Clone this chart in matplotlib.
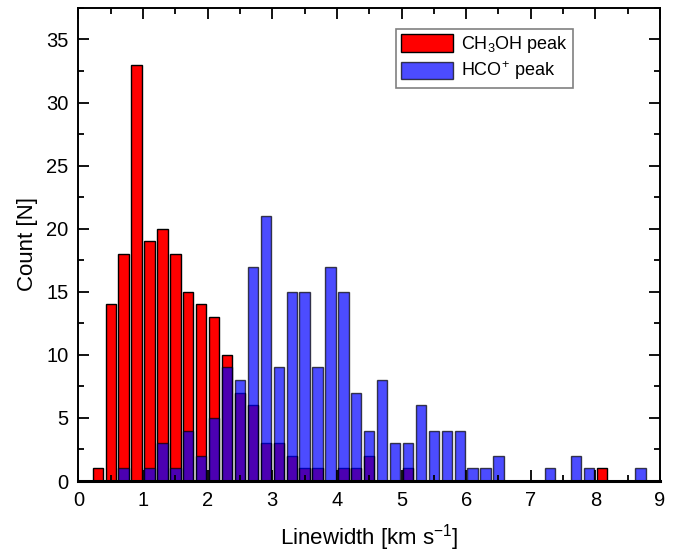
import matplotlib
matplotlib.use('Agg')
import matplotlib.pyplot as plt
from matplotlib.ticker import MultipleLocator
import numpy as np

plt.rcParams['font.family'] = ['Liberation Sans', 'DejaVu Sans']
plt.rcParams['mathtext.fontset'] = 'custom'
plt.rcParams['mathtext.rm'] = 'Liberation Sans'
plt.rcParams['mathtext.it'] = 'Liberation Sans:italic'
plt.rcParams['mathtext.bf'] = 'Liberation Sans:bold'

# histogram bins: width 0.2 km/s, first bin centred on 0.3
bin_start = 0.3
bin_step = 0.2

# counts per bin (0.3, 0.5, ..., 8.7)
ch3oh_counts = [1, 14, 18, 33, 19, 20, 18, 15, 14, 13,
                10, 7, 6, 3, 3, 2, 1, 1, 0, 1,
                1, 2, 0, 0, 1, 0, 0, 0, 0, 0,
                0, 0, 0, 0, 0, 0, 0, 0, 0, 1,
                0, 0, 0]
hco_counts = [0, 0, 1, 0, 1, 3, 1, 4, 2, 5,
              9, 8, 17, 21, 9, 15, 15, 9, 17, 15,
              7, 4, 8, 3, 3, 6, 4, 4, 4, 1,
              1, 2, 0, 0, 0, 1, 0, 2, 1, 0,
              0, 0, 1]

labels = ['CH$_3$OH peak', 'HCO$^{+}$ peak']

centers = bin_start + bin_step * np.arange(len(ch3oh_counts))

fig = plt.figure(figsize=(6.85, 5.52), dpi=100)
ax = fig.add_axes([0.1145, 0.1286, 0.849, 0.857])

ax.bar(centers, ch3oh_counts, width=0.16, color='#ff0000',
       edgecolor='black', linewidth=1, label=labels[0])
ax.bar(centers, hco_counts, width=0.16, color='#0000ff', alpha=0.7,
       edgecolor='black', linewidth=1, label=labels[1])

ax.set_xlim(0, 9)
ax.set_ylim(0, 37.5)
ax.xaxis.set_major_locator(MultipleLocator(1))
ax.xaxis.set_minor_locator(MultipleLocator(0.5))
ax.yaxis.set_major_locator(MultipleLocator(5))
ax.yaxis.set_minor_locator(MultipleLocator(2.5))
ax.tick_params(which='both', direction='in', top=True, right=True,
               labelsize=14.5, width=1.3)
ax.tick_params(which='major', length=8, pad=7)
ax.tick_params(which='minor', length=4)

for s in ax.spines.values():
    s.set_linewidth(1.4)
ax.spines['bottom'].set_linewidth(2.2)

ax.set_xlabel('Linewidth [km s$^{-1}$]', fontsize=16, labelpad=9)
ax.set_ylabel('Count [N]', fontsize=16, labelpad=6)

leg = ax.legend(loc='upper left', bbox_to_anchor=(0.53, 0.975), fontsize=13,
                fancybox=False, edgecolor='#808080', framealpha=1,
                handlelength=2.9, handleheight=1.1, borderpad=0.3,
                labelspacing=0.25, handletextpad=0.4)
leg.get_frame().set_linewidth(1.2)

fig.savefig('out.png', dpi=100)
